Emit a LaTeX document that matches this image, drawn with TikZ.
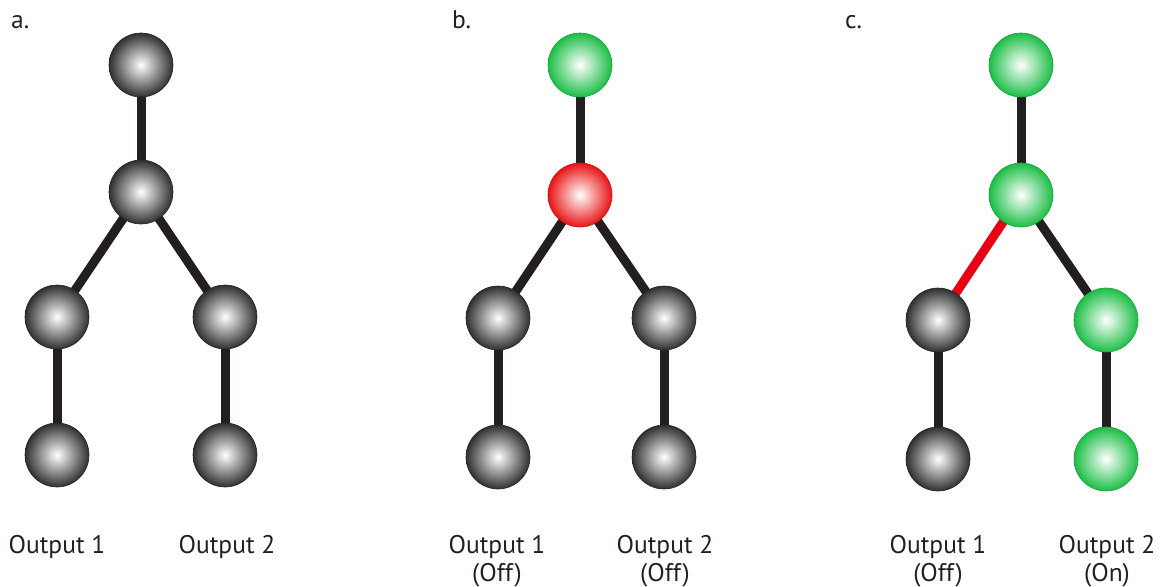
\documentclass[tikz,border=0pt]{standalone}
\usepackage{fontspec}
\setmainfont{PT Sans}
\usetikzlibrary{backgrounds}
\definecolor{ballgray}{RGB}{48,48,50}
\definecolor{ballgreen}{RGB}{28,190,70}
\definecolor{ballred}{RGB}{232,20,20}
\definecolor{linkblack}{RGB}{35,31,32}
\definecolor{linkred}{RGB}{232,0,20}
\begin{document}
\begin{tikzpicture}[x=1pt,y=-1pt,
  ball/.style={circle,minimum size=64pt,inner sep=0pt,inner color=white},
  grayball/.style={ball,outer color=ballgray,draw=ballgray!80!black,line width=0.6pt},
  greenball/.style={ball,outer color=ballgreen,draw=ballgreen!85!black,line width=0.6pt},
  redball/.style={ball,outer color=ballred,draw=ballred!90!black,line width=0.6pt},
  link/.style={draw=linkblack,line width=9pt},
  redlink/.style={draw=linkred,line width=9pt},
  lbl/.style={font=\fontsize{25.5}{30}\selectfont,text=linkblack,anchor=base,inner sep=0pt},
  tag/.style={font=\fontsize{25.5}{30}\selectfont,text=linkblack,anchor=base west,inner sep=0pt}]
\useasboundingbox (0,0) rectangle (1161,586);

% ---- panel a ----
\node[tag] (ta) at (11,29) {a.};
\node[grayball] (a1) at (141,65) {};
\node[grayball] (a2) at (141,192) {};
\node[grayball] (a3) at (57,317) {};
\node[grayball] (a4) at (225,317) {};
\node[grayball] (a5) at (57,455) {};
\node[grayball] (a6) at (225,455) {};
\node[lbl] (oa1) at (57,553) {Output 1};
\node[lbl] (oa2) at (227,553) {Output 2};

% ---- panel b ----
\node[tag] (tb) at (452,29) {b.};
\node[greenball] (b1) at (580,65) {};
\node[redball] (b2) at (580,195) {};
\node[grayball] (b3) at (498,318) {};
\node[grayball] (b4) at (664,318) {};
\node[grayball] (b5) at (498,457) {};
\node[grayball] (b6) at (664,457) {};
\node[lbl] (ob1) at (497,553) {Output 1};
\node[lbl] (ob1s) at (497,581) {(Off)};
\node[lbl] (ob2) at (665,553) {Output 2};
\node[lbl] (ob2s) at (665,581) {(Off)};

% ---- panel c ----
\node[tag] (tc) at (845,29) {c.};
\node[greenball] (c1) at (1021,65) {};
\node[greenball] (c2) at (1021,195) {};
\node[grayball] (c3) at (938,320) {};
\node[greenball] (c4) at (1106,320) {};
\node[grayball] (c5) at (938,459) {};
\node[greenball] (c6) at (1106,459) {};
\node[lbl] (oc1) at (938,553) {Output 1};
\node[lbl] (oc1s) at (938,581) {(Off)};
\node[lbl] (oc2) at (1107,553) {Output 2};
\node[lbl] (oc2s) at (1107,581) {(On)};

% ---- links behind the balls ----
\begin{pgfonlayer}{background}
\path[link] (a1) -- (a2);
\path[link] (a2.center) -- (a3.center);
\path[link] (a2.center) -- (a4.center);
\path[link] (a3) -- (a5);
\path[link] (a4) -- (a6);
\path[link] (b1) -- (b2);
\path[link] (b2.center) -- (b3.center);
\path[link] (b2.center) -- (b4.center);
\path[link] (b3) -- (b5);
\path[link] (b4) -- (b6);
\path[link] (c1) -- (c2);
\path[redlink] (c2.center) -- (c3.center);
\path[link] (c2.center) -- (c4.center);
\path[link] (c3) -- (c5);
\path[link] (c4) -- (c6);
\end{pgfonlayer}
\end{tikzpicture}
\end{document}
